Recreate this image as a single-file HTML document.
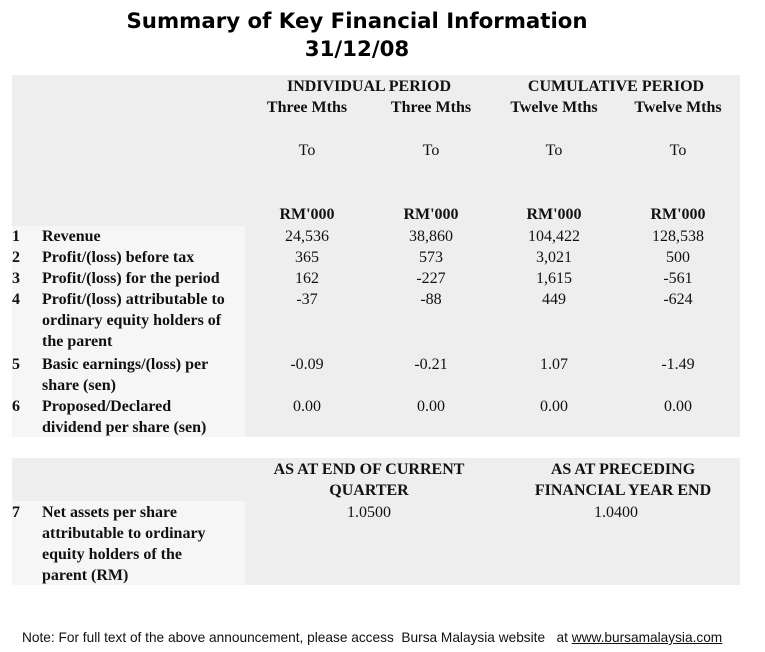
<!DOCTYPE html>
<html><head><style>
body{margin:0;width:765px;height:652px;background:#fff;position:relative;overflow:hidden;font-family:"Liberation Serif",serif;font-size:16px;line-height:21px;color:#111}
div{position:absolute;white-space:nowrap}
.c{transform:translateX(-50%);text-align:center}
.b{font-weight:bold}
.t{font-family:"DejaVu Sans",sans-serif;font-weight:bold;font-size:21.3px;line-height:28px;color:#000}
.bg{background:#eeeeee}
.lb{background:#f6f6f6}
</style></head><body>
<div class="t c" style="left:357px;top:8px">Summary of Key Financial Information</div>
<div class="t c" style="left:357px;top:36px">31/12/08</div>

<div class="bg" style="left:12px;top:75px;width:728px;height:362px"></div>
<div class="lb" style="left:12px;top:226px;width:233px;height:211px"></div>
<div class="bg" style="left:12px;top:458px;width:728px;height:127px"></div>
<div class="lb" style="left:12px;top:501px;width:233px;height:84px"></div>

<div class="b c" style="left:369px;top:76px">INDIVIDUAL PERIOD</div>
<div class="b c" style="left:616px;top:76px">CUMULATIVE PERIOD</div>
<div class="b c" style="left:307px;top:97px">Three Mths</div>
<div class="b c" style="left:431px;top:97px">Three Mths</div>
<div class="b c" style="left:554px;top:97px">Twelve Mths</div>
<div class="b c" style="left:678px;top:97px">Twelve Mths</div>
<div class="c" style="left:307px;top:140px">To</div>
<div class="c" style="left:431px;top:140px">To</div>
<div class="c" style="left:554px;top:140px">To</div>
<div class="c" style="left:678px;top:140px">To</div>
<div class="b c" style="left:307px;top:204px">RM'000</div>
<div class="b c" style="left:431px;top:204px">RM'000</div>
<div class="b c" style="left:554px;top:204px">RM'000</div>
<div class="b c" style="left:678px;top:204px">RM'000</div>

<div class="b" style="left:12px;top:226px">1</div><div class="b" style="left:42px;top:226px">Revenue</div>
<div class="b" style="left:12px;top:247px">2</div><div class="b" style="left:42px;top:247px">Profit/(loss) before tax</div>
<div class="b" style="left:12px;top:268px">3</div><div class="b" style="left:42px;top:268px">Profit/(loss) for the period</div>
<div class="b" style="left:12px;top:289px">4</div><div class="b" style="left:42px;top:289px">Profit/(loss) attributable to<br>ordinary equity holders of<br>the parent</div>
<div class="b" style="left:12px;top:354px">5</div><div class="b" style="left:42px;top:354px">Basic earnings/(loss) per<br>share (sen)</div>
<div class="b" style="left:12px;top:396px">6</div><div class="b" style="left:42px;top:396px">Proposed/Declared<br>dividend per share (sen)</div>

<div class="c" style="left:307px;top:226px">24,536</div><div class="c" style="left:431px;top:226px">38,860</div><div class="c" style="left:554px;top:226px">104,422</div><div class="c" style="left:678px;top:226px">128,538</div>
<div class="c" style="left:307px;top:247px">365</div><div class="c" style="left:431px;top:247px">573</div><div class="c" style="left:554px;top:247px">3,021</div><div class="c" style="left:678px;top:247px">500</div>
<div class="c" style="left:307px;top:268px">162</div><div class="c" style="left:431px;top:268px">-227</div><div class="c" style="left:554px;top:268px">1,615</div><div class="c" style="left:678px;top:268px">-561</div>
<div class="c" style="left:307px;top:289px">-37</div><div class="c" style="left:431px;top:289px">-88</div><div class="c" style="left:554px;top:289px">449</div><div class="c" style="left:678px;top:289px">-624</div>
<div class="c" style="left:307px;top:354px">-0.09</div><div class="c" style="left:431px;top:354px">-0.21</div><div class="c" style="left:554px;top:354px">1.07</div><div class="c" style="left:678px;top:354px">-1.49</div>
<div class="c" style="left:307px;top:396px">0.00</div><div class="c" style="left:431px;top:396px">0.00</div><div class="c" style="left:554px;top:396px">0.00</div><div class="c" style="left:678px;top:396px">0.00</div>

<div class="b c" style="left:369px;top:459px">AS AT END OF CURRENT<br>QUARTER</div>
<div class="b c" style="left:623px;top:459px">AS AT PRECEDING<br>FINANCIAL YEAR END</div>
<div class="b" style="left:12px;top:502px">7</div>
<div class="b" style="left:42px;top:502px">Net assets per share<br>attributable to ordinary<br>equity holders of the<br>parent (RM)</div>
<div class="c" style="left:369px;top:502px">1.0500</div>
<div class="c" style="left:616px;top:502px">1.0400</div>

<div style="left:22px;top:628px;font-family:'Liberation Sans',sans-serif;font-size:14px;line-height:18px;transform:scaleX(0.977);transform-origin:left top">Note: For full text of the above announcement, please access&nbsp; Bursa Malaysia website&nbsp;&nbsp; at <u>www.bursamalaysia.com</u></div>
</body></html>
